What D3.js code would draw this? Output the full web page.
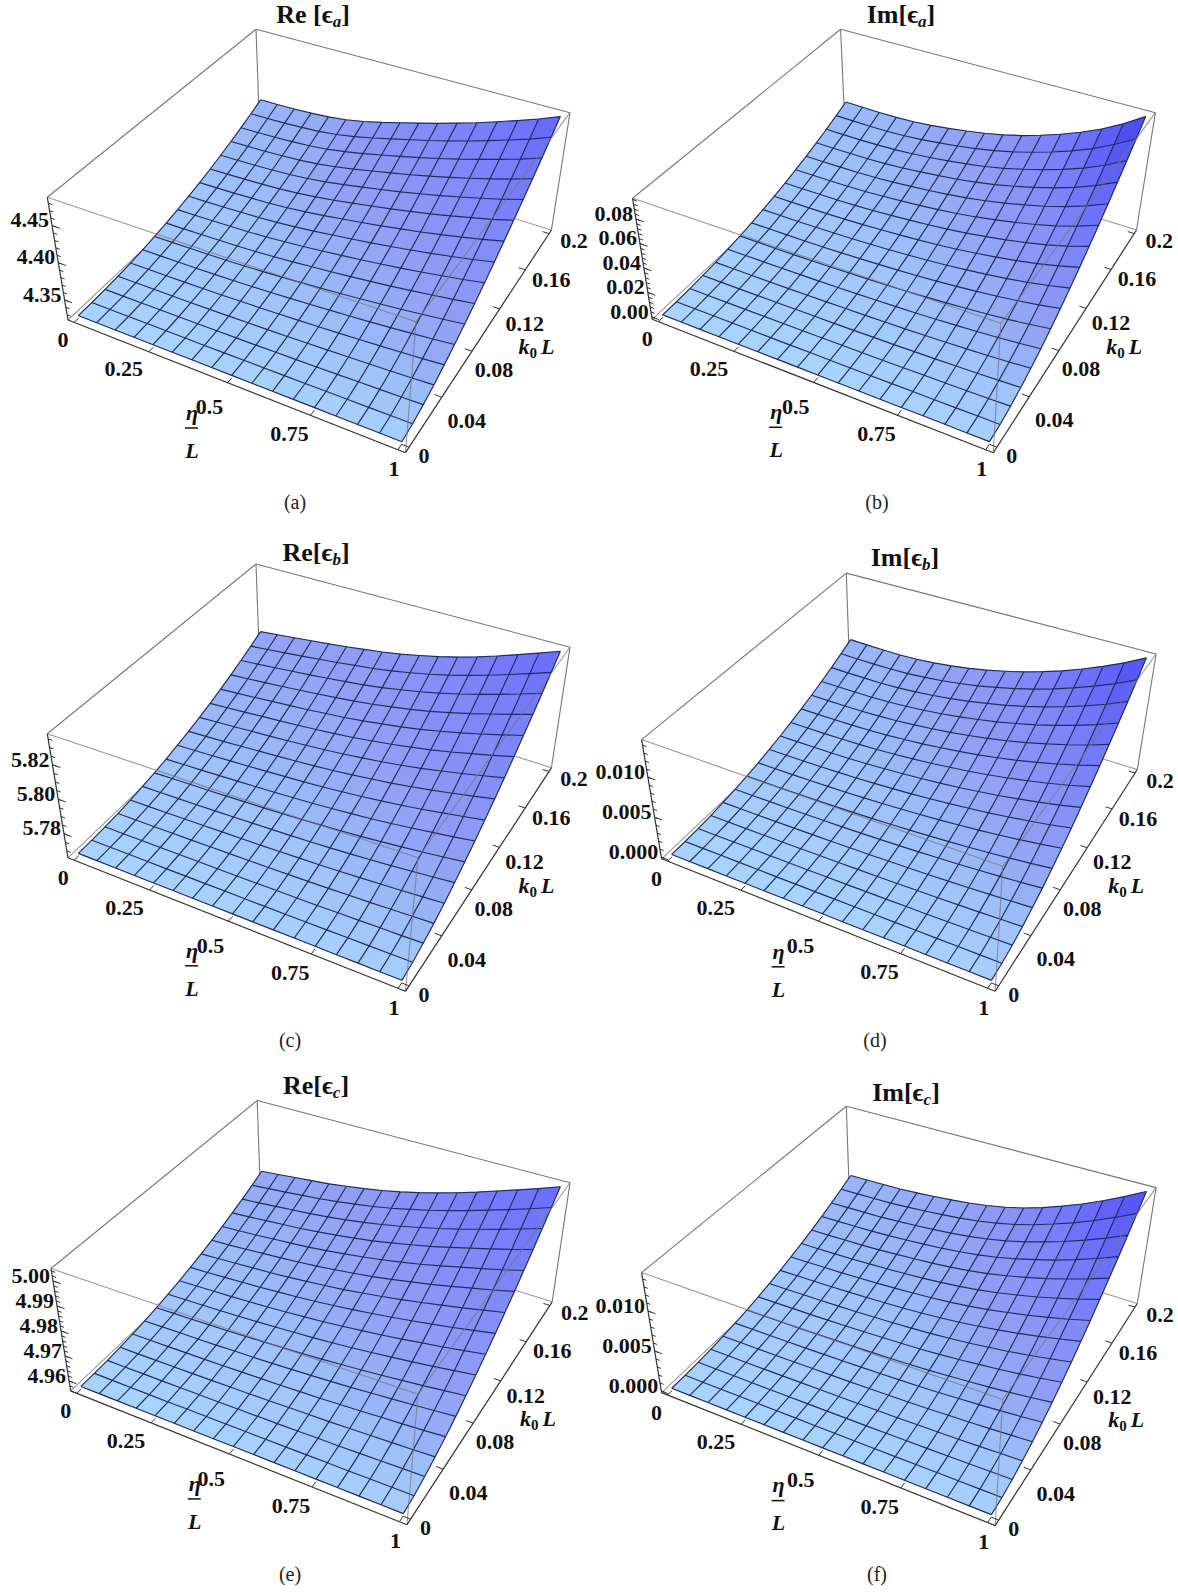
<!DOCTYPE html>
<html>
<head>
<meta charset="utf-8">
<script src="https://cdnjs.cloudflare.com/ajax/libs/d3/7.8.5/d3.min.js"></script>
<style>
body { margin: 0; background: #fff; }
text { font-family: "Liberation Serif", "DejaVu Serif", serif; fill: #111; }
.tick-label { font-size: 22px; font-weight: bold; }
.title { font-size: 26px; font-weight: bold; }
.axis-name { font-size: 22px; font-weight: bold; font-style: italic; }
.caption { font-size: 20px; fill: #222; }
</style>
</head>
<body>
<svg id="chart" width="1178" height="1595"></svg>
<script>
// grid of the surfaces
const etaValues = [0,.0625,.125,.1875,.25,.3125,.375,.4375,.5,.5625,.625,.6875,.75,.8125,.875,.9375,1];
const kValues = [0,.0125,.025,.0375,.05,.0625,.075,.0875,.1,.1125,.125,.1375,.15,.1625,.175,.1875,.2];

const etaTicks = [0,.25,.5,.75,1];
const etaTickLabels = ['0','0.25','0.5','0.75','1'];
const kTicks = [0,.04,.08,.12,.16,.2];
const kTickLabels = ['0','0.04','0.08','0.12','0.16','0.2'];

const reATicks = [4.35,4.40,4.45];
const imATicks = [0,.02,.04,.06,.08];
const reBTicks = [5.78,5.80,5.82];
const imBTicks = [0,.005,.01];
const reCTicks = [4.96,4.97,4.98,4.99,5];
const imCTicks = [0,.005,.01];

// surface heights, one row per k value, one column per eta value
const reA = [
[4.3263,4.3263,4.3263,4.3263,4.3263,4.3263,4.3263,4.3263,4.3263,4.3263,4.3263,4.3263,4.3263,4.3263,4.3263,4.3263,4.3263],
[4.3265,4.3266,4.3266,4.3267,4.3268,4.3268,4.3269,4.3270,4.3272,4.3273,4.3275,4.3276,4.3278,4.3280,4.3282,4.3285,4.3288],
[4.3273,4.3274,4.3275,4.3277,4.3278,4.3280,4.3283,4.3286,4.3289,4.3293,4.3297,4.3302,4.3307,4.3313,4.3319,4.3325,4.3333],
[4.3285,4.3287,4.3289,4.3291,4.3294,4.3298,4.3302,4.3308,4.3314,4.3321,4.3329,4.3337,4.3346,4.3356,4.3367,4.3378,4.3392],
[4.3302,4.3305,4.3308,4.3311,4.3315,4.3320,4.3328,4.3336,4.3346,4.3356,4.3367,4.3380,4.3393,4.3408,4.3424,4.3441,4.3461],
[4.3324,4.3328,4.3331,4.3336,4.3341,4.3348,4.3358,4.3370,4.3383,4.3398,4.3413,4.3430,4.3448,4.3468,4.3490,4.3513,4.3540],
[4.3351,4.3355,4.3360,4.3365,4.3372,4.3381,4.3394,4.3409,4.3426,4.3445,4.3464,4.3486,4.3509,4.3535,4.3563,4.3593,4.3627],
[4.3383,4.3387,4.3393,4.3399,4.3407,4.3419,4.3434,4.3453,4.3475,4.3498,4.3522,4.3549,4.3578,4.3610,4.3644,4.3680,4.3721],
[4.3420,4.3425,4.3431,4.3438,4.3447,4.3461,4.3480,4.3503,4.3529,4.3557,4.3586,4.3618,4.3652,4.3690,4.3731,4.3774,4.3823],
[4.3461,4.3466,4.3473,4.3482,4.3492,4.3508,4.3530,4.3557,4.3589,4.3621,4.3655,4.3693,4.3733,4.3777,4.3824,4.3874,4.3931],
[4.3508,4.3513,4.3520,4.3530,4.3541,4.3560,4.3585,4.3617,4.3654,4.3691,4.3730,4.3774,4.3819,4.3870,4.3924,4.3981,4.4046],
[4.3559,4.3565,4.3572,4.3582,4.3595,4.3616,4.3645,4.3681,4.3723,4.3766,4.3810,4.3860,4.3911,4.3969,4.4029,4.4093,4.4166],
[4.3616,4.3621,4.3628,4.3639,4.3653,4.3676,4.3710,4.3751,4.3798,4.3846,4.3896,4.3951,4.4009,4.4073,4.4140,4.4211,4.4292],
[4.3677,4.3682,4.3689,4.3701,4.3716,4.3742,4.3779,4.3825,4.3878,4.3932,4.3987,4.4048,4.4112,4.4182,4.4256,4.4334,4.4423],
[4.3743,4.3747,4.3755,4.3767,4.3783,4.3811,4.3853,4.3903,4.3962,4.4022,4.4082,4.4150,4.4220,4.4297,4.4378,4.4463,4.4559],
[4.3814,4.3818,4.3825,4.3838,4.3855,4.3885,4.3931,4.3987,4.4052,4.4117,4.4183,4.4257,4.4333,4.4417,4.4504,4.4596,4.4701],
[4.3890,4.3893,4.3900,4.3913,4.3931,4.3964,4.4014,4.4075,4.4146,4.4217,4.4289,4.4369,4.4451,4.4542,4.4636,4.4735,4.4847]
];

const imA = [
[0,0,0,0,0,0,0,0,0,0,0,0,0,0,0,0,0],
[.0001,.0001,.0002,.0002,.0002,.0002,.0002,.0003,.0003,.0003,.0004,.0004,.0005,.0005,.0006,.0007,.0008],
[.0006,.0006,.0006,.0006,.0007,.0007,.0008,.0009,.0010,.0011,.0012,.0014,.0016,.0018,.0021,.0024,.0028],
[.0013,.0013,.0013,.0014,.0015,.0016,.0017,.0018,.0020,.0023,.0025,.0029,.0032,.0037,.0042,.0048,.0055],
[.0022,.0023,.0023,.0024,.0025,.0027,.0029,.0032,.0034,.0038,.0042,.0047,.0053,.0060,.0068,.0078,.0090],
[.0035,.0035,.0036,.0037,.0039,.0041,.0044,.0048,.0052,.0057,.0063,.0070,.0079,.0089,.0100,.0114,.0131],
[.0050,.0051,.0051,.0053,.0055,.0058,.0062,.0067,.0072,.0079,.0087,.0097,.0109,.0122,.0137,.0156,.0179],
[.0068,.0069,.0070,.0071,.0073,.0077,.0083,.0089,.0096,.0104,.0115,.0128,.0143,.0160,.0180,.0204,.0233],
[.0089,.0090,.0090,.0092,.0095,.0099,.0106,.0113,.0122,.0133,.0146,.0162,.0180,.0201,.0226,.0256,.0292],
[.0113,.0113,.0114,.0115,.0119,.0124,.0132,.0141,.0152,.0164,.0180,.0200,.0222,.0247,.0277,.0313,.0357],
[.0139,.0139,.0140,.0141,.0145,.0152,.0161,.0172,.0184,.0199,.0218,.0241,.0267,.0297,.0332,.0375,.0427],
[.0168,.0168,.0168,.0170,.0174,.0182,.0193,.0205,.0219,.0237,.0259,.0286,.0316,.0351,.0392,.0442,.0502],
[.0200,.0200,.0200,.0201,.0206,.0215,.0227,.0241,.0257,.0278,.0303,.0334,.0369,.0409,.0456,.0514,.0583],
[.0235,.0234,.0234,.0235,.0240,.0250,.0264,.0280,.0298,.0322,.0350,.0385,.0425,.0471,.0525,.0589,.0668],
[.0273,.0271,.0270,.0272,.0277,.0288,.0303,.0321,.0342,.0368,.0400,.0440,.0485,.0536,.0596,.0669,.0757],
[.0313,.0311,.0309,.0310,.0316,.0328,.0345,.0365,.0389,.0418,.0454,.0498,.0548,.0605,.0672,.0754,.0851],
[.0356,.0353,.0351,.0352,.0358,.0371,.0390,.0412,.0438,.0470,.0510,.0559,.0614,.0678,.0752,.0842,.0950]
];

const reB = [
[5.7674,5.7674,5.7674,5.7674,5.7674,5.7674,5.7674,5.7674,5.7674,5.7674,5.7674,5.7674,5.7674,5.7674,5.7674,5.7674,5.7674],
[5.7675,5.7675,5.7676,5.7676,5.7676,5.7677,5.7677,5.7678,5.7678,5.7679,5.7679,5.7680,5.7681,5.7682,5.7683,5.7684,5.7685],
[5.7679,5.7679,5.7680,5.7681,5.7682,5.7683,5.7684,5.7685,5.7686,5.7688,5.7689,5.7691,5.7694,5.7696,5.7699,5.7701,5.7705],
[5.7684,5.7686,5.7687,5.7689,5.7690,5.7692,5.7694,5.7696,5.7698,5.7701,5.7704,5.7707,5.7711,5.7715,5.7720,5.7725,5.7730],
[5.7692,5.7694,5.7696,5.7699,5.7701,5.7704,5.7706,5.7709,5.7713,5.7717,5.7721,5.7726,5.7732,5.7738,5.7745,5.7752,5.7760],
[5.7703,5.7705,5.7708,5.7711,5.7714,5.7718,5.7722,5.7726,5.7730,5.7735,5.7741,5.7748,5.7756,5.7764,5.7774,5.7784,5.7795],
[5.7715,5.7719,5.7723,5.7726,5.7730,5.7735,5.7739,5.7744,5.7750,5.7757,5.7765,5.7773,5.7783,5.7794,5.7806,5.7819,5.7833],
[5.7730,5.7735,5.7739,5.7744,5.7749,5.7754,5.7760,5.7766,5.7773,5.7781,5.7791,5.7801,5.7813,5.7827,5.7842,5.7857,5.7874],
[5.7748,5.7753,5.7758,5.7764,5.7769,5.7776,5.7783,5.7790,5.7798,5.7808,5.7819,5.7832,5.7846,5.7862,5.7880,5.7899,5.7918],
[5.7767,5.7773,5.7779,5.7786,5.7793,5.7800,5.7808,5.7816,5.7826,5.7838,5.7851,5.7865,5.7882,5.7901,5.7921,5.7943,5.7966],
[5.7789,5.7796,5.7803,5.7811,5.7818,5.7826,5.7835,5.7845,5.7856,5.7870,5.7884,5.7901,5.7920,5.7942,5.7965,5.7990,5.8015],
[5.7813,5.7821,5.7829,5.7838,5.7846,5.7855,5.7865,5.7876,5.7889,5.7904,5.7921,5.7940,5.7961,5.7985,5.8012,5.8039,5.8068],
[5.7840,5.7848,5.7857,5.7867,5.7876,5.7886,5.7898,5.7909,5.7924,5.7941,5.7959,5.7980,5.8004,5.8031,5.8060,5.8091,5.8123],
[5.7869,5.7878,5.7888,5.7898,5.7909,5.7920,5.7932,5.7945,5.7961,5.7980,5.8000,5.8023,5.8050,5.8079,5.8112,5.8145,5.8180],
[5.7900,5.7910,5.7921,5.7932,5.7943,5.7956,5.7969,5.7983,5.8000,5.8021,5.8043,5.8069,5.8098,5.8130,5.8165,5.8201,5.8240],
[5.7933,5.7944,5.7956,5.7968,5.7981,5.7994,5.8009,5.8023,5.8042,5.8064,5.8088,5.8116,5.8148,5.8183,5.8221,5.8260,5.8301],
[5.7969,5.7981,5.7994,5.8007,5.8020,5.8034,5.8050,5.8066,5.8086,5.8110,5.8136,5.8166,5.8200,5.8238,5.8279,5.8321,5.8365]
];

const imB = [
[.00010,.00010,.00010,.00010,.00010,.00010,.00010,.00010,.00010,.00010,.00010,.00010,.00010,.00010,.00010,.00010,.00010],
[.00012,.00013,.00013,.00013,.00013,.00013,.00014,.00014,.00015,.00015,.00016,.00017,.00018,.00019,.00020,.00021,.00023],
[.00019,.00020,.00020,.00021,.00021,.00022,.00023,.00025,.00026,.00028,.00030,.00033,.00035,.00039,.00043,.00047,.00052],
[.00031,.00032,.00032,.00033,.00034,.00036,.00038,.00041,.00044,.00047,.00051,.00056,.00062,.00068,.00075,.00084,.00093],
[.00048,.00048,.00049,.00050,.00052,.00055,.00058,.00062,.00066,.00072,.00079,.00086,.00095,.00105,.00117,.00130,.00145],
[.00069,.00070,.00071,.00072,.00074,.00078,.00082,.00088,.00095,.00103,.00112,.00124,.00136,.00151,.00167,.00186,.00208],
[.00095,.00096,.00096,.00098,.00101,.00106,.00112,.00119,.00128,.00139,.00152,.00167,.00184,.00203,.00226,.00251,.00280],
[.00125,.00126,.00127,.00129,.00132,.00138,.00146,.00155,.00167,.00181,.00197,.00217,.00238,.00263,.00292,.00324,.00361],
[.00161,.00161,.00162,.00164,.00168,.00175,.00184,.00196,.00210,.00228,.00248,.00272,.00298,.00330,.00365,.00404,.00450],
[.00201,.00201,.00201,.00203,.00207,.00216,.00227,.00241,.00259,.00280,.00304,.00333,.00365,.00403,.00445,.00492,.00548],
[.00246,.00245,.00245,.00247,.00252,.00261,.00275,.00291,.00312,.00337,.00365,.00399,.00437,.00482,.00532,.00588,.00653],
[.00295,.00294,.00293,.00295,.00300,.00311,.00327,.00346,.00370,.00399,.00432,.00472,.00516,.00568,.00626,.00691,.00766],
[.00349,.00347,.00346,.00347,.00353,.00365,.00383,.00405,.00432,.00466,.00504,.00549,.00600,.00660,.00726,.00801,.00887],
[.00408,.00405,.00403,.00404,.00410,.00424,.00443,.00468,.00499,.00538,.00581,.00633,.00690,.00758,.00833,.00917,.01015],
[.00472,.00467,.00464,.00464,.00471,.00486,.00508,.00536,.00571,.00615,.00662,.00721,.00786,.00861,.00946,.01040,.01150],
[.00540,.00534,.00530,.00530,.00536,.00553,.00577,.00608,.00647,.00696,.00749,.00814,.00887,.00971,.01065,.01170,.01291],
[.00613,.00606,.00600,.00599,.00606,.00624,.00651,.00685,.00728,.00782,.00841,.00913,.00993,.01086,.01190,.01306,.01440]
];

const reC = [
[4.9570,4.9570,4.9570,4.9570,4.9570,4.9570,4.9570,4.9570,4.9570,4.9570,4.9570,4.9570,4.9570,4.9570,4.9570,4.9570,4.9570],
[4.9571,4.9571,4.9571,4.9571,4.9571,4.9572,4.9572,4.9572,4.9573,4.9573,4.9573,4.9574,4.9575,4.9575,4.9576,4.9577,4.9577],
[4.9573,4.9573,4.9574,4.9574,4.9575,4.9576,4.9576,4.9577,4.9578,4.9579,4.9580,4.9582,4.9583,4.9585,4.9587,4.9589,4.9591],
[4.9577,4.9577,4.9578,4.9579,4.9580,4.9581,4.9583,4.9584,4.9586,4.9588,4.9590,4.9592,4.9595,4.9598,4.9601,4.9604,4.9608],
[4.9582,4.9583,4.9584,4.9586,4.9587,4.9589,4.9591,4.9593,4.9595,4.9598,4.9601,4.9605,4.9609,4.9614,4.9618,4.9623,4.9629],
[4.9588,4.9590,4.9592,4.9593,4.9595,4.9598,4.9600,4.9603,4.9607,4.9611,4.9615,4.9620,4.9626,4.9632,4.9638,4.9645,4.9652],
[4.9596,4.9598,4.9600,4.9603,4.9605,4.9608,4.9612,4.9616,4.9620,4.9625,4.9631,4.9637,4.9644,4.9652,4.9660,4.9669,4.9678],
[4.9606,4.9608,4.9611,4.9614,4.9617,4.9621,4.9625,4.9630,4.9635,4.9641,4.9648,4.9656,4.9665,4.9674,4.9684,4.9695,4.9706],
[4.9617,4.9620,4.9623,4.9626,4.9630,4.9634,4.9639,4.9645,4.9651,4.9659,4.9668,4.9677,4.9687,4.9699,4.9710,4.9723,4.9736],
[4.9629,4.9632,4.9636,4.9640,4.9644,4.9650,4.9655,4.9662,4.9670,4.9679,4.9689,4.9700,4.9712,4.9725,4.9738,4.9753,4.9768],
[4.9643,4.9647,4.9651,4.9656,4.9660,4.9666,4.9673,4.9681,4.9689,4.9700,4.9711,4.9724,4.9738,4.9753,4.9768,4.9785,4.9802],
[4.9658,4.9662,4.9667,4.9673,4.9678,4.9685,4.9692,4.9701,4.9711,4.9722,4.9735,4.9750,4.9765,4.9782,4.9800,4.9818,4.9838],
[4.9675,4.9680,4.9685,4.9691,4.9697,4.9704,4.9713,4.9723,4.9734,4.9747,4.9761,4.9777,4.9795,4.9814,4.9833,4.9853,4.9875],
[4.9693,4.9698,4.9705,4.9711,4.9717,4.9726,4.9735,4.9746,4.9758,4.9773,4.9789,4.9806,4.9826,4.9847,4.9868,4.9890,4.9914],
[4.9712,4.9718,4.9725,4.9732,4.9739,4.9748,4.9758,4.9770,4.9784,4.9800,4.9818,4.9837,4.9858,4.9881,4.9904,4.9929,4.9955],
[4.9733,4.9740,4.9747,4.9755,4.9762,4.9772,4.9784,4.9796,4.9811,4.9829,4.9848,4.9869,4.9892,4.9917,4.9942,4.9969,4.9997],
[4.9756,4.9763,4.9771,4.9779,4.9787,4.9798,4.9810,4.9824,4.9840,4.9859,4.9880,4.9903,4.9928,4.9955,4.9982,5.0010,5.0040]
];

const imC = [
[.00010,.00010,.00010,.00010,.00010,.00010,.00010,.00010,.00010,.00010,.00010,.00010,.00010,.00010,.00010,.00010,.00010],
[.00012,.00012,.00013,.00013,.00013,.00013,.00014,.00014,.00014,.00015,.00016,.00016,.00017,.00019,.00020,.00021,.00023],
[.00019,.00019,.00020,.00021,.00021,.00022,.00023,.00024,.00026,.00027,.00029,.00032,.00035,.00038,.00043,.00047,.00052],
[.00030,.00031,.00032,.00033,.00034,.00036,.00038,.00040,.00043,.00046,.00050,.00055,.00061,.00067,.00075,.00084,.00094],
[.00046,.00047,.00048,.00050,.00052,.00055,.00058,.00061,.00065,.00070,.00076,.00084,.00094,.00104,.00117,.00131,.00146],
[.00066,.00067,.00069,.00071,.00074,.00078,.00082,.00087,.00092,.00100,.00109,.00120,.00134,.00149,.00167,.00187,.00209],
[.00090,.00092,.00095,.00097,.00101,.00106,.00111,.00117,.00125,.00135,.00147,.00163,.00181,.00201,.00225,.00252,.00282],
[.00119,.00122,.00125,.00127,.00132,.00138,.00145,.00153,.00163,.00175,.00191,.00211,.00235,.00261,.00291,.00325,.00364],
[.00153,.00155,.00159,.00162,.00168,.00175,.00183,.00193,.00205,.00220,.00240,.00264,.00294,.00326,.00364,.00406,.00453],
[.00190,.00193,.00197,.00201,.00208,.00216,.00226,.00237,.00252,.00270,.00294,.00324,.00360,.00399,.00444,.00495,.00551],
[.00233,.00236,.00240,.00244,.00252,.00262,.00273,.00286,.00303,.00325,.00353,.00388,.00431,.00477,.00531,.00590,.00657],
[.00279,.00283,.00287,.00291,.00301,.00311,.00325,.00340,.00360,.00385,.00418,.00459,.00508,.00562,.00625,.00694,.00772],
[.00331,.00334,.00339,.00343,.00353,.00366,.00381,.00398,.00420,.00450,.00487,.00535,.00591,.00653,.00725,.00804,.00893],
[.00386,.00390,.00395,.00399,.00411,.00424,.00441,.00460,.00486,.00519,.00562,.00615,.00680,.00750,.00832,.00922,.01022],
[.00446,.00450,.00455,.00459,.00472,.00487,.00506,.00527,.00555,.00593,.00641,.00701,.00774,.00852,.00944,.01045,.01158],
[.00511,.00514,.00519,.00523,.00537,.00554,.00575,.00598,.00629,.00671,.00724,.00792,.00873,.00961,.01063,.01175,.01300],
[.00580,.00583,.00588,.00592,.00607,.00625,.00648,.00673,.00708,.00754,.00813,.00888,.00978,.01075,.01188,.01312,.01450]
];

// where each panel sits on the page: box corners (T top, B bottom; O origin, X eta end, Y k end)
const panels = [
 {id:'a',name:'Re [',sub:'a',cap:'(a)',values:reA,zTicks:reATicks,dom:[4.323,4.488],zf:'.2f',minor:.01,tx:313,ty:23,cx:295,cy:509,nameDx:124,
  TY:[256,29.3],TO:[47.3,197.3],TXY:[570,112.7],TX:[416,321.7],BO:[68,320],BX:[405.5,452.7],BXY:[551.4,230],BY:[260,139.3]},
 {id:'b',name:'Im[',sub:'a',cap:'(b)',values:imA,zTicks:imATicks,dom:[-.002,.097],zf:'.2f',minor:.004,tx:901,ty:23,cx:877,cy:509,nameDx:124,
  TY:[840.6,29.3],TO:[632.6,198.3],TXY:[1155.4,112.7],TX:[1000.8,323.3],BO:[652.2,319.3],BX:[993.3,452.7],BXY:[1136.5,230],BY:[845.5,139.3]},
 {id:'c',name:'Re[',sub:'b',cap:'(c)',values:reB,zTicks:reBTicks,dom:[5.766,5.838],zf:'.2f',minor:.005,tx:316,ty:561,cx:290,cy:1047,nameDx:124,
  TY:[256,564],TO:[47.3,733.8],TXY:[570,647.2],TX:[417.9,857.8],BO:[68,857.8],BX:[405.5,991.3],BXY:[551.4,767.8],BY:[260,674.4]},
 {id:'d',name:'Im[',sub:'b',cap:'(d)',values:imB,zTicks:imBTicks,dom:[-.0002,.0147],zf:'.3f',minor:.001,tx:905,ty:566,cx:875,cy:1047,nameDx:117,
  TY:[846.3,573.1],TO:[641.6,739.6],TXY:[1156.1,654],TX:[1002.7,866.3],BO:[661.6,858.8],BX:[995.2,991.3],BXY:[1137.3,769.5],BY:[850,681.2]},
 {id:'e',name:'Re[',sub:'c',cap:'(e)',values:reC,zTicks:reCTicks,dom:[4.956,5.005],zf:'.2f',minor:.002,tx:316,ty:1094,cx:290,cy:1581,nameDx:124,
  TY:[257.2,1100.5],TO:[51,1268.5],TXY:[570,1182.8],TX:[417.9,1394.3],BO:[70.7,1390.9],BX:[407,1524.7],BXY:[552.2,1301.8],BY:[261,1210.9]},
 {id:'f',name:'Im[',sub:'c',cap:'(f)',values:imC,zTicks:imCTicks,dom:[-.0002,.0148],zf:'.3f',minor:.001,tx:906,ty:1101,cx:877,cy:1581,nameDx:117,
  TY:[846.3,1106.3],TO:[641.6,1272.6],TXY:[1156.1,1187.6],TX:[1002.7,1399.5],BO:[661.6,1392.6],BX:[995.2,1525.6],BXY:[1137.3,1303.5],BY:[850,1214.3]}
];

// unit square -> quad, keeps the perspective of the box
function quadMap(p0, p1, p2, p3) {
  const dx1 = p1[0]-p2[0], dx2 = p3[0]-p2[0], sx = p0[0]-p1[0]+p2[0]-p3[0];
  const dy1 = p1[1]-p2[1], dy2 = p3[1]-p2[1], sy = p0[1]-p1[1]+p2[1]-p3[1];
  const den = dx1*dy2-dx2*dy1;
  const g = (sx*dy2-dx2*sy)/den, h = (dx1*sy-sx*dy1)/den;
  const a = p1[0]-p0[0]+g*p1[0], b = p3[0]-p0[0]+h*p3[0];
  const d = p1[1]-p0[1]+g*p1[1], e = p3[1]-p0[1]+h*p3[1];
  return (u, v) => {
    const w = g*u+h*v+1;
    return [(a*u+b*v+p0[0])/w, (d*u+e*v+p0[1])/w];
  };
}

// cell colour goes with how steep the cell is
const color = d3.scaleLinear()
  .domain([0,.5,.8,1.2,1.8,2.5,3.3])
  .range(['#a9d3ff','#a0c4fb','#98b2f7','#909ff5','#7f88f8','#6668fc','#4a4aee'])
  .clamp(true);

const svg = d3.select('#chart');
const line = d3.line();

function drawPanel(p) {
  const table = p.values;
  const floor = quadMap(p.BO, p.BX, p.BXY, p.BY);
  const top = quadMap(p.TO, p.TX, p.TXY, p.TY);
  const proj = (u, v, w) => {
    const a = floor(u, v), b = top(u, v);
    return [a[0]+(b[0]-a[0])*w, a[1]+(b[1]-a[1])*w];
  };
  const xs = d3.scaleLinear().domain([0,1]).range([.02,.98]);
  const ys = d3.scaleLinear().domain([0,.2]).range([.02,.98]);
  const zs = d3.scaleLinear().domain(p.dom).range([0,1]);
  const node = (i, j) => proj(xs(etaValues[i]), ys(kValues[j]), zs(table[j][i]));
  const g = svg.append('g').attr('class', 'panel-'+p.id);

  const edge = (a, b, col, w, op) => g.append('path')
    .attr('d', line([a,b])).attr('stroke', col).attr('stroke-width', w)
    .attr('fill', 'none').attr('stroke-opacity', op || 1);

  // back of the box
  [[p.TO,p.TY],[p.TY,p.TXY],[p.TXY,p.BXY],[p.TY,p.BY]].forEach(e => edge(e[0], e[1], '#777', 1.1));
  [[p.BO,p.BY],[p.BY,p.BXY]].forEach(e => edge(e[0], e[1], '#999', 1.1));

  // surface cells, far ones first
  const cells = [];
  for (let j = 15; j >= 0; j--) for (let i = 0; i < 16; i++) cells.push({i, j});
  g.selectAll('.cell').data(cells).join('path').attr('class', 'cell')
    .attr('d', c => line([node(c.i,c.j), node(c.i+1,c.j), node(c.i+1,c.j+1), node(c.i,c.j+1)])+'Z')
    .attr('fill', c => {
      const w = (a, b) => zs(table[b][a]);
      const dk = ((w(c.i,c.j+1)+w(c.i+1,c.j+1))-(w(c.i,c.j)+w(c.i+1,c.j)))*8;
      const de = ((w(c.i+1,c.j)+w(c.i+1,c.j+1))-(w(c.i,c.j)+w(c.i,c.j+1)))*8;
      return color(Math.max(0,dk)+Math.max(0,de));
    })
    .attr('stroke', function() { return d3.select(this).attr('fill'); })
    .attr('stroke-width', .5);

  // mesh
  const mesh = g.append('g').attr('fill', 'none').attr('stroke', '#1f2c5a').attr('stroke-width', 1.15);
  table.forEach((row, j) => mesh.append('path').attr('d', line(row.map((v, i) => node(i, j)))));
  etaValues.forEach((e, i) => mesh.append('path').attr('d', line(kValues.map((k, j) => node(i, j)))));

  // front of the box, over the surface
  [[p.TO,p.TX],[p.TX,p.TXY],[p.TX,p.BX]].forEach(e => edge(e[0], e[1], '#777', 1.1, .75));

  // axes
  [[p.TO,p.BO],[p.BO,p.BX],[p.BX,p.BXY]].forEach(e => edge(e[0], e[1], '#333', 1.2));

  const tick = (a, b) => g.append('path').attr('d', line([a,b])).attr('stroke', '#333').attr('stroke-width', 1).attr('fill', 'none');
  const label = (x, y, t, anchor) => g.append('text').attr('class', 'tick-label')
    .attr('x', x).attr('y', y).attr('dy', '.35em').attr('text-anchor', anchor || 'middle').text(t);

  const etaOff = [[-11,17],[-25,17],[-18,24],[-21,18],[-4,19]];
  etaTicks.forEach((t, n) => {
    const a = proj(xs(t), 0, 0);
    tick(a, proj(xs(t), .02, 0));
    label(a[0]+etaOff[n][0], a[1]+etaOff[n][1], etaTickLabels[n]);
  });

  const kOff = [[15,8],[25,23],[22,18],[25,14],[26,9],[25,7]];
  kTicks.forEach((t, n) => {
    const a = proj(1, ys(t), 0);
    tick(a, proj(.98, ys(t), 0));
    label(a[0]+kOff[n][0], a[1]+kOff[n][1], kTickLabels[n]);
  });

  const fmt = d3.format(p.zf);
  d3.range(Math.ceil(p.dom[0]/p.minor), Math.floor(p.dom[1]/p.minor)+1).forEach(n => {
    const w = zs(n*p.minor);
    tick(proj(0,0,w), proj(.012,0,w));
  });
  p.zTicks.forEach(t => {
    const w = zs(t), a = proj(0,0,w);
    tick(a, proj(.024,0,w));
    label(a[0]-3, a[1]-6, fmt(t), 'end');
  });

  // axis names
  const ex = p.BO[0]+p.nameDx, ey = p.BO[1]+92;
  g.append('text').attr('class', 'axis-name').attr('x', ex).attr('y', ey).attr('dy', '.35em').attr('text-anchor', 'middle').text('η');
  g.append('path').attr('d', line([[ex-7,ey+16],[ex+6,ey+16]])).attr('stroke', '#111').attr('stroke-width', 1.5);
  g.append('text').attr('class', 'axis-name').attr('x', ex).attr('y', ey+38).attr('dy', '.35em').attr('text-anchor', 'middle').text('L');
  const kt = g.append('text').attr('class', 'axis-name').attr('x', p.BX[0]+131).attr('y', p.BX[1]-106).attr('dy', '.35em').attr('text-anchor', 'middle');
  kt.append('tspan').text('k');
  kt.append('tspan').attr('dy', 4).attr('font-size', 15).attr('font-style', 'normal').text('0');
  kt.append('tspan').attr('dy', -4).attr('dx', 4).text('L');

  // title and caption
  const tt = g.append('text').attr('class', 'title').attr('x', p.tx).attr('y', p.ty).attr('text-anchor', 'middle');
  tt.append('tspan').text(p.name+'ϵ');
  tt.append('tspan').attr('dy', 4).attr('font-size', 17).attr('font-style', 'italic').text(p.sub);
  tt.append('tspan').attr('dy', -4).text(']');
  g.append('text').attr('class', 'caption').attr('x', p.cx).attr('y', p.cy).attr('text-anchor', 'middle').text(p.cap);
}

panels.forEach(drawPanel);
</script>
</body>
</html>
